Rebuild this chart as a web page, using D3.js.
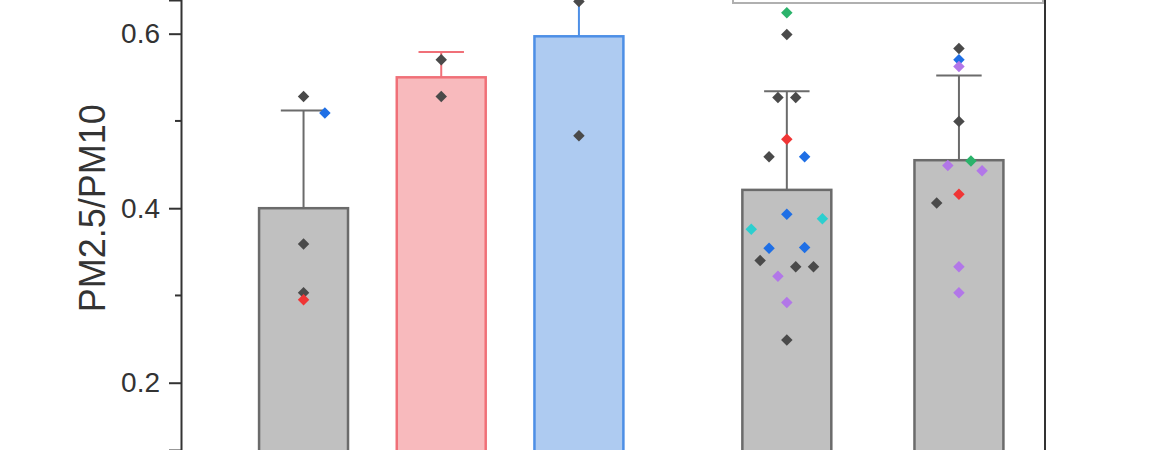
<!DOCTYPE html>
<html>
<head>
<meta charset="utf-8">
<script src="https://cdn.jsdelivr.net/npm/d3@7"></script>
<style>
  html, body { margin: 0; padding: 0; background: #fff; }
  svg { display: block; font-family: 'Liberation Sans', Arial, sans-serif; }
</style>
</head>
<body>
<div id="chart"></div>
<script>
// groups along x (no x labels visible in the crop)
const groups = ['A', 'B', 'C', 'D', 'E'];
const groupPos = [1, 2, 3, 4.51, 5.76];
const barMeans = [0.400, 0.550, 0.597, 0.421, 0.455];
const barSD = [0.112, 0.029, 0.083, 0.113, 0.097];
const barStyle = ['gray', 'pink', 'blue', 'gray', 'gray'];

const yTicks = [0.2, 0.4, 0.6];
const yMinorTicks = [0.3, 0.5];

// individual samples: [value, colour key, jitter step]
const pointsA = [[0.528, 'k', 0], [0.509, 'b', 2.4], [0.359, 'k', 0], [0.303, 'k', 0], [0.295, 'r', 0]];
const pointsB = [[0.570, 'k', 0], [0.528, 'k', 0]];
const pointsC = [[0.637, 'k', 0], [0.483, 'k', 0]];
const pointsD = [
  [0.624, 'g', 0], [0.599, 'k', 0], [0.527, 'k', -1], [0.527, 'k', 1], [0.479, 'r', 0],
  [0.459, 'k', -2], [0.459, 'b', 2], [0.393, 'b', 0], [0.388, 'c', 4], [0.376, 'c', -4],
  [0.354, 'b', -2], [0.355, 'b', 2], [0.340, 'k', -3], [0.333, 'k', 1], [0.333, 'k', 3],
  [0.322, 'p', -1], [0.292, 'p', 0], [0.249, 'k', 0]
];
const pointsE = [
  [0.583, 'k', 0], [0.570, 'b', 0], [0.5625, 'p', 0], [0.4995, 'k', 0], [0.449, 'p', -1.25],
  [0.454, 'g', 1.35], [0.443, 'p', 2.6], [0.416, 'r', 0], [0.406, 'k', -2.5],
  [0.333, 'p', 0], [0.303, 'p', 0]
];
const points = [pointsA, pointsB, pointsC, pointsD, pointsE];

const pointColors = { k: '#4a4a4a', b: '#1f6fe5', r: '#f03535', g: '#2bb36b', c: '#2ccfcf', p: '#b277e8' };
const barColors = {
  gray: { fill: '#c0c0c0', stroke: '#6b6b6b' },
  pink: { fill: '#f8babd', stroke: '#f07078' },
  blue: { fill: '#aecbf1', stroke: '#4d8fe6' }
};

const width = 1170, height = 450;
const axisX = 181, rightX = 1045;

const svg = d3.select('#chart').append('svg')
  .attr('width', width)
  .attr('height', height);

const x = d3.scaleLinear().domain([0.11, 6.385]).range([axisX, rightX]);
const y = d3.scaleLinear().domain([0.1229, 0.6386]).range([height, 0]);
const barW = x(0.646) - x(0);
const capW = x(0.33) - x(0);
const jitterStep = barW / 10;

// legend frame (only its lower edge is inside the crop)
svg.append('rect')
  .attr('x', 733).attr('y', -100)
  .attr('width', 310).attr('height', 103)
  .attr('fill', '#fff')
  .attr('stroke', '#b0b0b0')
  .attr('stroke-width', 2);

// bars
const bars = groups.map((g, i) => ({ g, i, pos: groupPos[i], mean: barMeans[i], sd: barSD[i], style: barColors[barStyle[i]] }));

svg.append('g').selectAll('rect')
  .data(bars)
  .join('rect')
  .attr('x', d => x(d.pos) - barW / 2)
  .attr('y', d => y(d.mean))
  .attr('width', barW)
  .attr('height', d => height + 20 - y(d.mean))
  .attr('fill', d => d.style.fill)
  .attr('stroke', d => d.style.stroke)
  .attr('stroke-width', 2.5);

// error bars (upper half only)
const err = svg.append('g').selectAll('g')
  .data(bars)
  .join('g')
  .attr('stroke', d => d.style.stroke)
  .attr('stroke-width', 2);

err.append('line')
  .attr('x1', d => x(d.pos)).attr('x2', d => x(d.pos))
  .attr('y1', d => y(d.mean)).attr('y2', d => y(d.mean + d.sd));

err.append('line')
  .attr('x1', d => x(d.pos) - capW / 2).attr('x2', d => x(d.pos) + capW / 2)
  .attr('y1', d => y(d.mean + d.sd)).attr('y2', d => y(d.mean + d.sd));

// sample points
const flat = [];
points.forEach((arr, i) => arr.forEach(p => flat.push({ pos: groupPos[i], v: p[0], c: p[1], j: p[2] })));

const diamond = d3.symbol().type(d3.symbolSquare).size(66);
svg.append('g').selectAll('path')
  .data(flat)
  .join('path')
  .attr('d', diamond)
  .attr('transform', d => `translate(${x(d.pos) + d.j * jitterStep},${y(d.v)}) rotate(45)`)
  .attr('fill', d => pointColors[d.c]);

// y axis
const yAxis = d3.axisLeft(y).tickValues(yTicks).tickSize(12).tickPadding(9).tickFormat(d3.format('.1f'));
const gy = svg.append('g')
  .attr('transform', `translate(${axisX},0)`)
  .call(yAxis);
gy.select('.domain').attr('stroke', '#333').attr('stroke-width', 2);
gy.selectAll('.tick line').attr('stroke', '#333').attr('stroke-width', 2);
gy.selectAll('.tick text')
  .attr('fill', '#333')
  .attr('font-size', 28)
  .attr('font-family', "'Liberation Sans', Arial, sans-serif");

gy.selectAll('.minor')
  .data(yMinorTicks)
  .join('line')
  .attr('class', 'minor')
  .attr('x1', -6).attr('x2', 0)
  .attr('y1', d => y(d)).attr('y2', d => y(d))
  .attr('stroke', '#333')
  .attr('stroke-width', 2);

// right frame line
svg.append('line')
  .attr('x1', rightX).attr('x2', rightX)
  .attr('y1', 0).attr('y2', height)
  .attr('stroke', '#333')
  .attr('stroke-width', 2);

// axis title
svg.append('text')
  .attr('transform', `translate(105,${(y(0.2) + y(0.6)) / 2}) rotate(-90)`)
  .attr('text-anchor', 'middle')
  .attr('fill', '#333')
  .attr('font-size', 36)
  .text('PM2.5/PM10');
</script>
</body>
</html>
